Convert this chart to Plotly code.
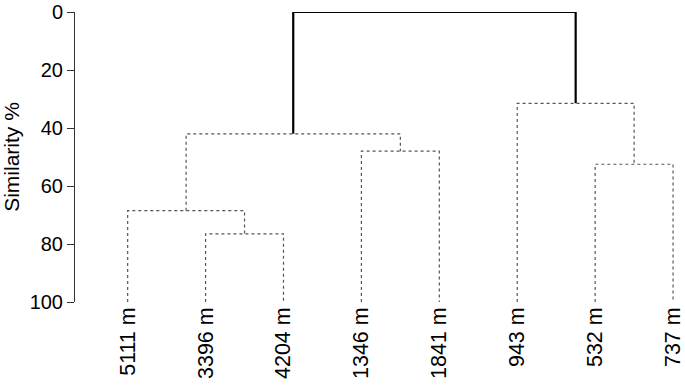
import plotly.graph_objects as go

# Leaf labels (left to right)
labels = ["5111 m", "3396 m", "4204 m", "1346 m", "1841 m", "943 m", "532 m", "737 m"]
leaf_similarity = [100, 100, 100, 100, 100, 100, 100, 100]

# Merges: (child_a, child_b, similarity %); leaves are 0..7, new clusters 8,9,...
merge_a = [1, 0, 3, 9, 6, 5, 11]
merge_b = [2, 8, 4, 10, 7, 12, 13]
merge_sim = [76.5, 68.5, 48.0, 42.0, 52.5, 31.5, 0.0]

y_ticks = [0, 20, 40, 60, 80, 100]

# Compute node positions from the data
xpos = {i: float(i) for i in range(len(labels))}
ypos = {i: leaf_similarity[i] for i in range(len(labels))}

fig = go.Figure()
n = len(labels)
for k, (a, b, s) in enumerate(zip(merge_a, merge_b, merge_sim)):
    node = n + k
    xa, xb = xpos[a], xpos[b]
    xpos[node] = (xa + xb) / 2
    ypos[node] = s
    is_root = k == len(merge_sim) - 1
    line = dict(color="black", width=2.2) if is_root else dict(color="#555555", width=1.2, dash="dot")
    fig.add_trace(go.Scatter(
        x=[xa, xa, xb, xb], y=[ypos[a], s, s, ypos[b]],
        mode="lines", line=line, hoverinfo="skip", showlegend=False,
        cliponaxis=False))

fig.update_layout(
    width=685, height=385,
    margin=dict(l=75, r=0, t=12, b=83),
    paper_bgcolor="white", plot_bgcolor="white",
    font=dict(family="Liberation Sans, Arial, sans-serif", color="black", size=20),
)
fig.update_xaxes(
    range=[-0.676, 7.102], showgrid=False, zeroline=False, showline=False,
    tickmode="array", tickvals=list(range(n)), ticktext=labels,
    tickangle=-90, ticks="", tickfont=dict(size=21.5), ticklabeloverflow="allow",
)
fig.update_yaxes(
    range=[100, 0], showgrid=False, zeroline=False, showline=True,
    linecolor="#333333", linewidth=1, ticks="outside", ticklen=7, tickcolor="#333333",
    tickvals=y_ticks, tickfont=dict(size=20),
    title=dict(text="Similarity %", font=dict(size=21), standoff=6),
)

fig.write_html("out.html", config={"displayModeBar": False},
               post_script="document.body.style.margin='0';")
